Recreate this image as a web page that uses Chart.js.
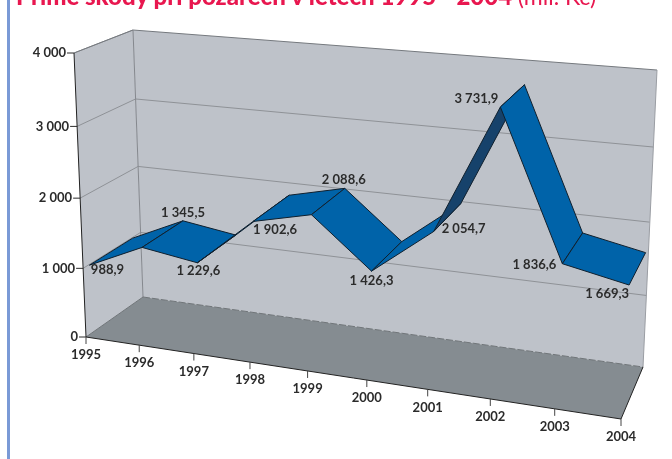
<!DOCTYPE html>
<html>
<head>
<meta charset="utf-8">
<style>
  html, body { margin: 0; padding: 0; background: #fff; overflow: hidden; }
  #wrap { position: relative; width: 672px; height: 459px; overflow: hidden; }
  #chart3d { position: absolute; left: 0; top: 0; }
  #bar { position: absolute; left: 7px; top: 0; width: 3px; height: 459px; background: #7a9ad6; }
  #title { position: absolute; left: 16px; top: -19px; white-space: nowrap; color: #e8174f;
           font: 900 24px Lato, sans-serif; }
  #title span { font-weight: normal; font-size: 23px; }
</style>
</head>
<body>
<div id="wrap">
  <canvas id="chart3d" width="672" height="459"></canvas>
  <div id="bar"></div>
  <div id="title">Přímé škody při požárech v letech 1995 - 2004 <span>(mil. Kč)</span></div>
</div>
<script src="https://cdn.jsdelivr.net/npm/chart.js@4"></script>
<script>
// data
const years = ["1995", "1996", "1997", "1998", "1999", "2000", "2001", "2002", "2003", "2004"];
const damages = [988.9, 1345.5, 1229.6, 1902.6, 2088.6, 1426.3, 2054.7, 3731.9, 1836.6, 1669.3];
const valueTicks = [0, 1000, 2000, 3000, 4000];

// where each value label sits: which ribbon edge it hangs from, and shift in px
const labelEdge = ["front", "back", "front", "front", "back", "front", "front", "front", "front", "front"];
const labelShiftX = [18, 0, 1, 22, -1, 0, 30, -24, -28, -22];
const labelShiftY = [5, -8, 8, 8, -9, 10, -3, -8, 1, 9];

// corners of the 3d box, in canvas px: [0 left/bottom, right/bottom, right/top, left/top]
const frontPlane = [[86, 337], [621, 419], [635, 100], [74, 53]];
const backPlane = [[143, 297], [643, 367], [657, 70], [133, 30]];
const ribbonFront = 0.11;
const ribbonBack = 0.86;

const wallColor = "#bec2c9";
const floorColor = "#858c91";
const gridColor = "#8f9297";
const ribbonColor = "#0063a9";
const shadedColor = "#16426b";
const shadedYear = "2001";
const inkColor = "#2b2b2b";
const labelFont = "bold 13px Lato, sans-serif";

// unit square -> quad homography
function homography(q) {
  const [[x0, y0], [x1, y1], [x2, y2], [x3, y3]] = q;
  const dx1 = x1 - x2, dx2 = x3 - x2, sx = x0 - x1 + x2 - x3;
  const dy1 = y1 - y2, dy2 = y3 - y2, sy = y0 - y1 + y2 - y3;
  const det = dx1 * dy2 - dx2 * dy1;
  const g = (sx * dy2 - dx2 * sy) / det;
  const h = (dx1 * sy - sx * dy1) / det;
  return (u, v) => {
    const w = g * u + h * v + 1;
    return [
      ((x1 - x0 + g * x1) * u + (x3 - x0 + h * x3) * v + x0) / w,
      ((y1 - y0 + g * y1) * u + (y3 - y0 + h * y3) * v + y0) / w,
    ];
  };
}

const frontMap = homography(frontPlane);
const backMap = homography(backPlane);

function project(u, v, z) {
  const a = frontMap(u, v);
  const b = backMap(u, v);
  return [a[0] + (b[0] - a[0]) * z, a[1] + (b[1] - a[1]) * z];
}

// scale pixel -> box coordinates
function unitOf(chart, px, py) {
  const area = chart.chartArea;
  return [(px - area.left) / (area.right - area.left), (area.bottom - py) / (area.bottom - area.top)];
}

function polygon(ctx, pts, fill, stroke) {
  ctx.beginPath();
  pts.forEach((p, i) => (i ? ctx.lineTo(p[0], p[1]) : ctx.moveTo(p[0], p[1])));
  ctx.closePath();
  if (fill) {
    ctx.fillStyle = fill;
    ctx.fill();
  }
  if (stroke) {
    ctx.strokeStyle = stroke;
    ctx.stroke();
  }
}

function segment(ctx, a, b, color, width) {
  ctx.beginPath();
  ctx.moveTo(a[0], a[1]);
  ctx.lineTo(b[0], b[1]);
  ctx.strokeStyle = color;
  ctx.lineWidth = width;
  ctx.stroke();
}

function formatValue(v, digits) {
  const parts = v.toFixed(digits).split(".");
  const whole = parts[0].replace(/\B(?=(\d{3})+$)/g, " ");
  return parts[1] ? whole + "," + parts[1] : whole;
}

// every ribbon facet is its own closed line dataset
const facets = [];
for (let i = 0; i < years.length - 1; i++) {
  facets.push({
    label: years[i] + "-" + years[i + 1],
    data: [
      { x: years[i], y: damages[i], z: ribbonFront },
      { x: years[i + 1], y: damages[i + 1], z: ribbonFront },
      { x: years[i + 1], y: damages[i + 1], z: ribbonBack },
      { x: years[i], y: damages[i], z: ribbonBack },
      { x: years[i], y: damages[i], z: ribbonFront },
    ],
    order: years.length - i,
    fill: "shape",
    backgroundColor: years[i] === shadedYear ? shadedColor : ribbonColor,
    borderColor: "#10202e",
    borderWidth: 1,
    pointRadius: 0,
    tension: 0,
    clip: false,
  });
}

const box3d = {
  id: "box3d",
  // move the library's points from the flat scales into the box
  afterDatasetsUpdate(chart) {
    chart.data.datasets.forEach((ds, k) => {
      chart.getDatasetMeta(k).data.forEach((pt, i) => {
        const [u, v] = unitOf(chart, pt.x, pt.y);
        const p = project(u, v, ds.data[i].z);
        pt.x = p[0];
        pt.y = p[1];
      });
    });
  },
  beforeDatasetsDraw(chart) {
    const ctx = chart.ctx;
    const xs = chart.scales.x;
    const ys = chart.scales.y;
    ctx.save();
    ctx.lineWidth = 1;

    polygon(ctx, [project(0, 0, 0), project(0, 1, 0), project(0, 1, 1), project(0, 0, 1)], wallColor);
    polygon(ctx, [project(0, 0, 1), project(1, 0, 1), project(1, 1, 1), project(0, 1, 1)], wallColor);
    polygon(ctx, [project(0, 0, 0), project(1, 0, 0), project(1, 0, 1), project(0, 0, 1)], floorColor);

    // grid lines on both walls, ticks and labels on the left
    ctx.font = labelFont;
    ctx.textBaseline = "middle";
    ys.ticks.forEach((t) => {
      const v = unitOf(chart, 0, ys.getPixelForValue(t.value))[1];
      const a = project(0, v, 0);
      if (t.value > 0) {
        segment(ctx, a, project(0, v, 1), gridColor, 1);
        segment(ctx, project(0, v, 1), project(1, v, 1), t.value === 4000 ? "#75797e" : gridColor, 1);
      }
      segment(ctx, [a[0] - 7, a[1]], a, inkColor, 1);
      ctx.fillStyle = inkColor;
      ctx.textAlign = "right";
      ctx.fillText(formatValue(t.value, 0), a[0] - 8, a[1]);
    });

    // box edges
    segment(ctx, project(0, 0, 1), project(0, 1, 1), "#84878d", 1);
    segment(ctx, project(0, 1, 0), project(0, 1, 1), "#75797e", 1);
    segment(ctx, project(1, 0, 1), project(1, 1, 1), "#9a9da3", 1);
    ctx.setLineDash([7, 2]);
    segment(ctx, project(0, 0, 1), project(1, 0, 1), "#6f7478", 1);
    ctx.setLineDash([]);
    segment(ctx, project(0, 0, 0), project(0, 0, 1), "#6f7478", 1);
    segment(ctx, project(0, 0, 0), project(0, 1, 0), "#222222", 1);
    segment(ctx, project(0, 0, 0), project(1, 0, 0), "#222222", 1);
    segment(ctx, project(1, 0, 0), project(1, 0, 1), "#222222", 1);

    // year ticks under the front floor edge
    ctx.textAlign = "center";
    years.forEach((year, i) => {
      const u = unitOf(chart, xs.getPixelForValue(i), 0)[0];
      const a = project(u, 0, 0);
      segment(ctx, a, [a[0], a[1] + 7], "#444444", 1);
      ctx.fillStyle = inkColor;
      ctx.fillText(year, a[0], a[1] + 18);
    });
    ctx.restore();
  },
  afterDatasetsDraw(chart) {
    const ctx = chart.ctx;
    const xs = chart.scales.x;
    const ys = chart.scales.y;
    ctx.save();
    ctx.font = labelFont;
    ctx.fillStyle = inkColor;
    ctx.textAlign = "center";
    ctx.textBaseline = "middle";
    damages.forEach((value, i) => {
      const [u, v] = unitOf(chart, xs.getPixelForValue(i), ys.getPixelForValue(value));
      const p = project(u, v, labelEdge[i] === "back" ? ribbonBack : ribbonFront);
      ctx.fillText(formatValue(value, 1), p[0] + labelShiftX[i], p[1] + labelShiftY[i]);
    });
    ctx.restore();
  },
};

new Chart(document.getElementById("chart3d"), {
  type: "line",
  data: { labels: years, datasets: facets },
  options: {
    responsive: false,
    animation: false,
    events: [],
    layout: { padding: 0 },
    plugins: { legend: { display: false }, tooltip: { enabled: false } },
    scales: {
      x: { type: "category", display: false, offset: false },
      y: {
        display: false,
        min: valueTicks[0],
        max: valueTicks[valueTicks.length - 1],
        afterBuildTicks(axis) {
          axis.ticks = valueTicks.map((value) => ({ value }));
        },
      },
    },
  },
  plugins: [box3d],
});
</script>
</body>
</html>
